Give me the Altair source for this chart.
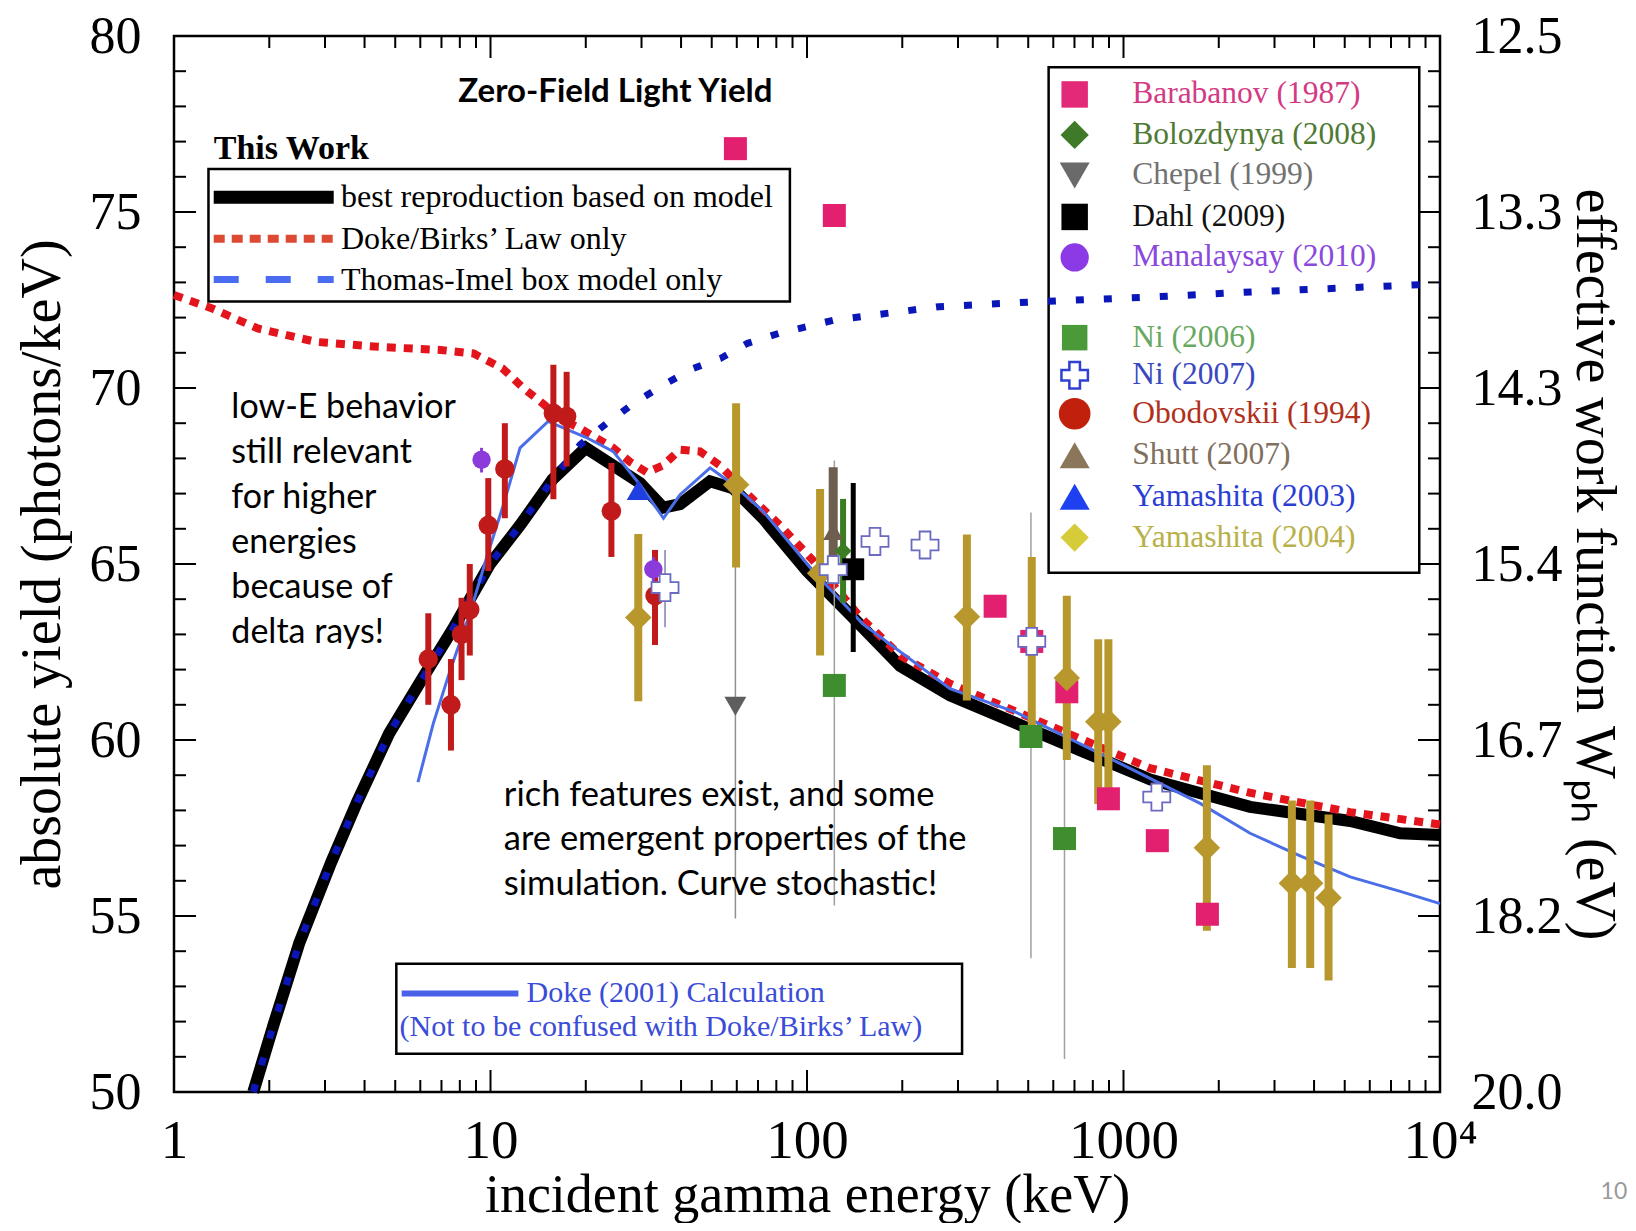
import altair as alt
import pandas as pd

# ---------------- model curves (energy in keV, yield in photons/keV) ----------------
black_E = [1.78, 2.07, 2.49, 3.14, 3.79, 4.78, 6.02, 7.6, 9.96, 12.4, 15.7, 20.0, 24.4, 29.7, 35.1,
           39.7, 49.4, 58.4, 72.6, 100, 139, 197, 283, 460, 747, 1213, 2512, 5200, 7490, 10000]
black_Y = [50.0, 51.95, 54.24, 56.53, 58.24, 60.18, 61.67, 63.15, 65.0, 66.1, 67.4, 68.3, 67.8, 67.3, 66.6,
           66.7, 67.35, 67.15, 66.3, 64.8, 63.5, 62.1, 61.27, 60.47, 59.67, 58.88, 58.1, 57.7, 57.35, 57.3]

birks_E = [1.0, 1.32, 1.84, 2.81, 4.41, 6.95, 8.84, 10.9, 12.7, 14.8, 16.6, 19.2, 24.4, 27.6, 31.2, 35.1,
           39.7, 45.9, 53.1, 64.6, 82.2, 104.5, 147, 197, 283, 460, 747, 1213, 2512, 5200, 10000]
birks_Y = [72.64, 72.26, 71.69, 71.31, 71.17, 71.08, 70.98, 70.56, 70.0, 69.52, 69.13, 68.85, 68.3, 67.9,
           67.6, 67.8, 68.25, 68.2, 67.8, 67.0, 66.1, 65.1, 63.5, 62.4, 61.6, 60.8, 60.0, 59.2, 58.5, 57.95, 57.6]

ti_E = [1.78, 2.07, 2.49, 3.14, 3.79, 4.78, 6.02, 7.6, 9.96, 12.4, 15.7, 19.2, 23.3, 28.7, 35.4, 43.8,
        53.3, 64.9, 81.3, 122, 261, 559, 1197, 2553, 10000]
ti_Y = [50.0, 51.95, 54.24, 56.53, 58.24, 60.18, 61.67, 63.15, 65.0, 66.1, 67.4, 68.39, 69.0, 69.6, 70.1,
        70.56, 70.84, 71.27, 71.55, 71.93, 72.31, 72.46, 72.58, 72.73, 72.96]

doke_E = [5.9, 6.59, 7.45, 8.6, 9.72, 11.0, 12.4, 15.2, 20.0, 24.4, 29.7, 35.2, 39.7, 49.4, 58.4, 72.6,
          104.5, 150, 283, 460, 953, 1746, 2512, 3630, 5200, 7490, 10000]
doke_Y = [58.8, 60.46, 61.97, 63.58, 65.18, 66.7, 68.3, 69.05, 68.6, 68.2, 67.25, 66.3, 66.97, 67.73, 67.26,
          66.5, 64.8, 63.3, 61.46, 60.78, 59.38, 58.2, 57.35, 56.7, 56.11, 55.7, 55.35]

# ---------------- measurements ----------------
barabanov_E = [59.4, 122, 393, 513, 662, 896, 1279, 1841]
barabanov_Y = [76.8, 74.9, 63.8, 62.8, 61.37, 58.33, 57.14, 55.05]

ni06_E = [122, 510, 651]
ni06_Y = [61.55, 60.1, 57.2]
ni06_lo = [55.3, 53.8, 50.94]
ni06_hi = [67.94, 66.46, 63.4]

ni07_E = [35.6, 121, 164, 236, 513, 1274]
ni07_Y = [64.33, 64.84, 65.64, 65.54, 62.8, 58.38]
ni07_bar_E = [35.6]
ni07_lo = [63.2]
ni07_hi = [65.4]

obo_E = [6.36, 7.5, 8.1, 8.6, 9.84, 11.1, 15.8, 17.4, 24.1, 33.1]
obo_Y = [62.3, 61.0, 63.0, 63.7, 66.1, 67.7, 69.28, 69.19, 66.5, 64.1]
obo_lo = [61.0, 59.7, 61.7, 62.4, 64.8, 66.3, 66.84, 67.77, 65.2, 62.7]
obo_hi = [63.6, 62.3, 64.04, 65.0, 67.44, 69.0, 70.66, 70.46, 67.87, 65.4]

mana_E = [9.37, 32.7]
mana_Y = [67.96, 64.85]
mana_lo = [67.6, 64.5]
mana_hi = [68.3, 65.2]

chepel_E = [59.4]
chepel_Y = [60.96]
chepel_lo = [54.93]
chepel_hi = [67.0]

shutt_E = [121]
shutt_Y = [65.93]
shutt_lo = [64.9]
shutt_hi = [67.75]

bolo_E = [130]
bolo_Y = [65.37]
bolo_lo = [63.9]
bolo_hi = [66.85]

dahl_E = [140]
dahl_Y = [64.85]
dahl_lo = [62.5]
dahl_hi = [67.3]

yam03_E = [29.3]
yam03_Y = [67.1]

yam04_E = [29.3, 59.7, 110, 320, 513, 662, 832, 896, 1834, 3404, 3890, 4445]
yam04_Y = [63.48, 67.25, 64.74, 63.5, 62.8, 61.76, 60.52, 60.52, 56.94, 55.93, 55.93, 55.52]
yam04_lo = [61.1, 64.9, 62.4, 61.12, 60.4, 59.43, 58.18, 58.18, 54.58, 53.52, 53.52, 53.17]
yam04_hi = [65.85, 69.57, 67.13, 65.84, 65.2, 64.1, 62.86, 62.86, 59.28, 58.28, 58.28, 57.88]

# ---------------- axes ----------------
x_label_values = [1, 10, 100, 1000, 10000]
x_minor_values = [2, 3, 4, 5, 6, 7, 8, 9, 20, 30, 40, 50, 60, 70, 80, 90, 200, 300, 400, 500, 600, 700,
                  800, 900, 2000, 3000, 4000, 5000, 6000, 7000, 8000, 9000]
y_label_values = [50, 55, 60, 65, 70, 75, 80]
y_minor_values = [v for v in range(50, 81) if v % 5 != 0]

# ---------------- legends / annotations text ----------------
leg1_texts = ["best reproduction based on model", "Doke/Birks\u2019 Law only", "Thomas-Imel box model only"]
leg1_Y = [75.42, 74.24, 73.08]

leg2_names = ["Barabanov (1987)", "Bolozdynya (2008)", "Chepel (1999)", "Dahl (2009)", "Manalaysay (2010)",
              "Ni (2006)", "Ni (2007)", "Obodovskii (1994)", "Shutt (2007)", "Yamashita (2003)", "Yamashita (2004)"]
leg2_Y = [78.34, 77.19, 76.04, 74.86, 73.71, 71.43, 70.36, 69.27, 68.09, 66.91, 65.75]
leg2_text_colors = ["#d43a84", "#4f7a35", "#727272", "#111111", "#8a48dc", "#68a860", "#3a48c0",
                    "#b0301c", "#80705e", "#2a3ed4", "#b8b048"]
leg2_sym_colors = ["#e22a78", "#3f7a28", "#6a6a6a", "#000000", "#8c3ae6", "#4a9a3a", "#ffffff",
                   "#c0200c", "#8a765a", "#1f40f0", "#d6cc3a"]
leg2_shapes = ["square", "diamond", "triangle-down", "square", "circle", "square", "cross",
               "circle", "triangle-up", "triangle-up", "diamond"]
leg2_sizes = [700, 800, 900, 700, 800, 650, 700, 1000, 900, 900, 800]

doke_box_texts = ["Doke (2001) Calculation", "(Not to be confused with Doke/Birks\u2019 Law)"]
doke_box_E = [13.0, 5.16]
doke_box_Y = [52.8, 51.86]

note1_lines = ["low-E behavior", "still relevant", "for higher", "energies", "because of", "delta rays!"]
note1_Y = [69.42, 68.15, 66.88, 65.6, 64.33, 63.03]
note2_lines = ["rich features exist, and some", "are emergent properties of the", "simulation. Curve stochastic!"]
note2_Y = [58.42, 57.15, 55.88]

W, H = 1266, 1056
SERIF = "Liberation Serif"
SANS = "Lato"

XS = alt.Scale(type="log", domain=[1, 10000], nice=False)
YS = alt.Scale(domain=[50, 80], nice=False, zero=False)
YS2 = alt.Scale(domain=[50, 80], nice=False, zero=False)

XA = alt.Axis(values=x_label_values,
              labelExpr="datum.value >= 10000 ? '10\u2074' : format(datum.value, 'd')",
              ticks=False, tickSize=0, domain=False, grid=False,
              labelFont=SERIF, labelFontSize=55, labelColor="black", labelPadding=22,
              labelFlush=False, labelOverlap=False,
              title="incident gamma energy (keV)", titleFont=SERIF, titleFontSize=54,
              titleFontWeight="normal", titleColor="black", titlePadding=0)
YA = alt.Axis(values=y_label_values, ticks=False, tickSize=0, domain=False, grid=False,
              labelFont=SERIF, labelFontSize=52, labelColor="black", labelPadding=33,
              labelFlush=False, labelOverlap=False,
              title="absolute yield (photons/keV)", titleFont=SERIF, titleFontSize=56,
              titleFontWeight="normal", titleColor="black", titlePadding=18)
YAR = alt.Axis(orient="right", values=y_label_values,
               labelExpr="format(1000 / datum.value, '.1f')",
               ticks=False, tickSize=0, domain=False, grid=False,
               labelFont=SERIF, labelFontSize=52, labelColor="black", labelPadding=31,
               labelFlush=False, labelOverlap=False,
               title="effective work function W\u209a\u2095 (eV)", titleFont=SERIF, titleFontSize=56,
               titleFontWeight="normal", titleColor="black", titlePadding=2)


def ex(field="E"):
    return alt.X(f"{field}:Q", scale=XS, axis=XA)


def ey(field="Y"):
    return alt.Y(f"{field}:Q", scale=YS, axis=YA)


def curve(E, Y, color, width, dash=None):
    kw = {} if dash is None else {"strokeDash": dash}
    return alt.Chart(pd.DataFrame({"E": E, "Y": Y})).mark_line(
        color=color, strokeWidth=width, **kw).encode(x=ex(), y=ey())


def bars(E, lo, hi, color, width):
    return alt.Chart(pd.DataFrame({"E": E, "lo": lo, "hi": hi})).mark_rule(
        color=color, strokeWidth=width).encode(x=ex(), y=ey("lo"), y2="hi:Q")


def pts(E, Y, shape, color, size, **kw):
    return alt.Chart(pd.DataFrame({"E": E, "Y": Y})).mark_point(
        shape=shape, filled=True, color=color, size=size, opacity=1, **kw).encode(x=ex(), y=ey())


def texts(E, Y, t, size, color="black", font=SERIF, weight="normal", align="left"):
    df = pd.DataFrame({"E": E, "Y": Y, "t": t})
    return alt.Chart(df).mark_text(align=align, baseline="middle", font=font, fontSize=size,
                                   fontWeight=weight, color=color).encode(x=ex(), y=ey(), text="t:N")


def box(E1, E2, Y1, Y2):
    df = pd.DataFrame({"E": [E1], "E2": [E2], "Y": [Y1], "Y2": [Y2]})
    return alt.Chart(df).mark_rect(fillOpacity=0, stroke="black", strokeWidth=2.5).encode(
        x=ex(), x2="E2:Q", y=ey(), y2="Y2:Q")


def hseg(E1, E2, Yv, color, width, dash=None):
    kw = {} if dash is None else {"strokeDash": dash}
    df = pd.DataFrame({"E": [E1], "E2": [E2], "Y": [Yv]})
    return alt.Chart(df).mark_rule(color=color, strokeWidth=width, **kw).encode(
        x=ex(), x2="E2:Q", y=ey())


layers = []
# boxes
layers.append(box(1.285, 88.3, 76.22, 72.46))
layers.append(box(580, 8600, 79.11, 64.75))
layers.append(box(5.04, 309, 53.64, 51.09))

# legend 1
layers.append(texts([1.335], [76.8], ["This Work"], 34, weight="bold"))
layers.append(hseg(1.335, 3.196, leg1_Y[0], "black", 13))
layers.append(hseg(1.335, 3.196, leg1_Y[1], "#dc4a34", 8, [11, 7]))
layers.append(hseg(1.335, 3.196, leg1_Y[2], "#4a6cf0", 7, [25, 27]))
layers.append(texts([3.37] * 3, leg1_Y, leg1_texts, 32))

# Doke box
layers.append(hseg(5.24, 12.25, doke_box_Y[0], "#4a62e8", 6))
layers.append(texts(doke_box_E, doke_box_Y, doke_box_texts, 30, color="#3a4cd8"))

# curves
layers.append(curve(black_E, black_Y, "black", 12))
layers.append(curve(birks_E, birks_Y, "#e3141c", 8, [9, 8]))
layers.append(curve(ti_E, ti_Y, "#0b16b8", 7, [8, 20]))
layers.append(curve(doke_E, doke_Y, "#4a6ee8", 3))

# thin error bars
layers.append(bars(chepel_E, chepel_lo, chepel_hi, "#909090", 1.5))
layers.append(bars(ni06_E, ni06_lo, ni06_hi, "#a0a0a0", 1.5))
layers.append(bars(ni07_bar_E, ni07_lo, ni07_hi, "#8080b0", 1.5))
# thick error bars
layers.append(bars(yam04_E, yam04_lo, yam04_hi, "#b8982c", 8))
layers.append(bars(obo_E, obo_lo, obo_hi, "#c01a1a", 6))
layers.append(bars(mana_E, mana_lo, mana_hi, "#8b3bd9", 3))
layers.append(bars(shutt_E, shutt_lo, shutt_hi, "#6e5e50", 9))
layers.append(bars(bolo_E, bolo_lo, bolo_hi, "#3b7d22", 6))
layers.append(bars(dahl_E, dahl_lo, dahl_hi, "black", 5))

# markers
layers.append(pts(barabanov_E, barabanov_Y, "square", "#e2206f", 530))
layers.append(pts(ni06_E, ni06_Y, "square", "#3e8e2f", 530))
layers.append(pts(yam04_E, yam04_Y, "diamond", "#b8982c", 700))
layers.append(pts(obo_E, obo_Y, "circle", "#c01a1a", 380))
layers.append(pts(mana_E, mana_Y, "circle", "#8b3bd9", 340))
layers.append(pts(chepel_E, chepel_Y, "triangle-down", "#5e5e5e", 480))
layers.append(pts(shutt_E, shutt_Y, "triangle-up", "#6e5e50", 400))
layers.append(pts(bolo_E, bolo_Y, "diamond", "#3b7d22", 290))
layers.append(pts(dahl_E, dahl_Y, "square", "black", 480))
layers.append(pts(yam03_E, yam03_Y, "triangle-up", "#1f3fe0", 530))
layers.append(alt.Chart(pd.DataFrame({"E": ni07_E, "Y": ni07_Y})).mark_point(
    shape="cross", filled=True, fill="white", stroke="#6a6ac0", strokeWidth=1.8, size=730,
    opacity=1, fillOpacity=1, strokeOpacity=1).encode(x=ex(), y=ey()))

# legend 2
leg2 = pd.DataFrame({"E": [701] * len(leg2_names), "Y": leg2_Y, "s": leg2_shapes,
                     "c": leg2_sym_colors, "z": leg2_sizes})
leg2_filled = leg2[leg2["s"] != "cross"]
leg2_cross = leg2[leg2["s"] == "cross"]
layers.append(alt.Chart(leg2_filled).mark_point(filled=True, opacity=1).encode(
    x=ex(), y=ey(), shape=alt.Shape("s:N", scale=None), color=alt.Color("c:N", scale=None),
    size=alt.Size("z:Q", scale=None)))
layers.append(alt.Chart(leg2_cross).mark_point(
    shape="cross", filled=True, fill="white", stroke="#3040d0", strokeWidth=2.5, size=700,
    opacity=1, fillOpacity=1, strokeOpacity=1).encode(x=ex(), y=ey()))
leg2_t = pd.DataFrame({"E": [1065] * len(leg2_names), "Y": leg2_Y, "t": leg2_names, "c": leg2_text_colors})
layers.append(alt.Chart(leg2_t).mark_text(align="left", baseline="middle", font=SERIF, fontSize=31.5).encode(
    x=ex(), y=ey(), text="t:N", color=alt.Color("c:N", scale=None)))

# annotations
layers.append(texts([24.8], [78.4], ["Zero-Field Light Yield"], 33, font=SANS, weight="bold", align="center"))
layers.append(texts([1.518] * len(note1_lines), note1_Y, note1_lines, 34, font=SANS))
layers.append(texts([11.02] * len(note2_lines), note2_Y, note2_lines, 34.5, font=SANS))
layers.append(texts([39060], [47.15], ["10"], 23, color="#9a9a9a", font=SANS, align="right"))

# inward ticks (bottom, top, left)
xmaj = pd.DataFrame({"E": x_label_values})
xmin = pd.DataFrame({"E": x_minor_values})
for df, L in ((xmaj, 22), (xmin, 12)):
    layers.append(alt.Chart(df).mark_rule(color="black", strokeWidth=2).encode(
        x=ex(), y=alt.value(H), y2=alt.value(H - L)))
    layers.append(alt.Chart(df).mark_rule(color="black", strokeWidth=2).encode(
        x=ex(), y=alt.value(0), y2=alt.value(L)))
ymaj = pd.DataFrame({"Y": y_label_values})
ymin = pd.DataFrame({"Y": y_minor_values})
for df, L in ((ymaj, 22), (ymin, 12)):
    layers.append(alt.Chart(df).mark_rule(color="black", strokeWidth=2).encode(
        y=ey(), x=alt.value(0), x2=alt.value(L)))

main = alt.layer(*layers)

right_layers = []
for df, L in ((ymaj, 22), (ymin, 12)):
    right_layers.append(alt.Chart(df).mark_rule(color="black", strokeWidth=2).encode(
        y=alt.Y("Y:Q", scale=YS2, axis=YAR), x=alt.value(W - L), x2=alt.value(W)))
right = alt.layer(*right_layers)

chart = alt.layer(main, right).resolve_scale(y="independent").properties(
    width=W, height=H,
    autosize=alt.AutoSizeParams(type="none"),
    padding={"left": 166, "top": 28, "right": 188, "bottom": 131},
    background="white",
).configure_view(stroke="black", strokeWidth=2.5)

chart.save("out.html", embed_options={"renderer": "svg", "actions": False})
